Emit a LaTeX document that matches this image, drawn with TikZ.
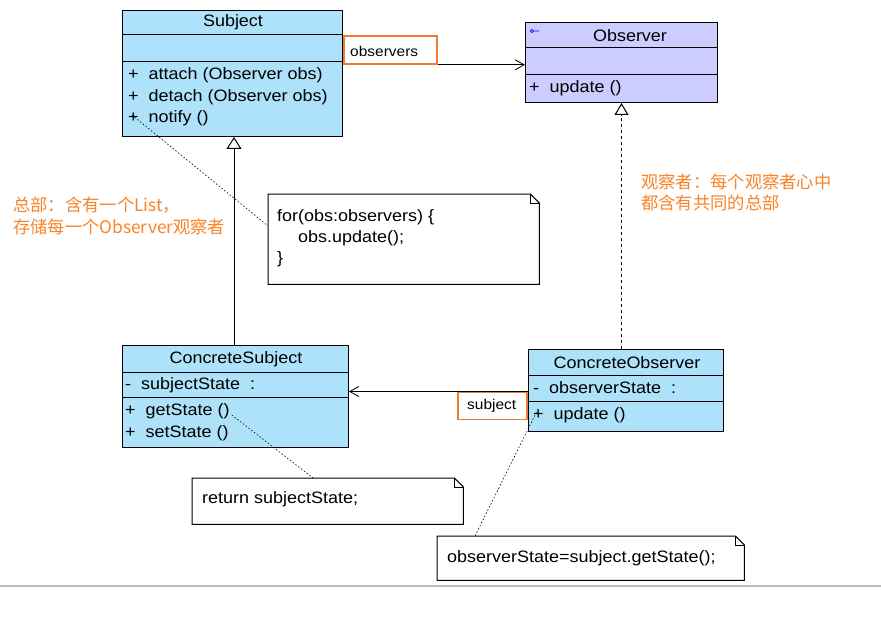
\documentclass[tikz,border=0pt]{standalone}
\usepackage{fontspec}
\setmainfont{Liberation Sans}[FakeStretch=1.09]
\newfontfamily\cjk{Noto Sans CJK SC}
\usetikzlibrary{arrows.meta,calc}

\definecolor{classblue}{RGB}{174,226,250}
\definecolor{classlav}{RGB}{204,204,255}
\definecolor{roleorange}{RGB}{237,125,49}
\definecolor{remarkorange}{RGB}{250,132,40}
\definecolor{rulegray}{RGB}{190,190,190}

% note with a folded top-right corner
\newcommand\dogear[1]{%
  \draw[line width=1pt] (#1.north west) -- ($(#1.north east)+(-9,0)$)
    -- ($(#1.north east)+(0,9)$) -- (#1.south east) -- (#1.south west) -- cycle;
  \draw[line width=0.6pt] ($(#1.north east)+(-9,0)$) |- ($(#1.north east)+(0,9)$);}

\begin{document}
\begin{tikzpicture}[x=1pt,y=-1pt,
  classbox/.style={draw=black, line width=1pt, anchor=north west, inner sep=0},
  compline/.style={line width=1pt},
  member/.style={anchor=base west, inner sep=0, font=\fontsize{16.5}{18}\selectfont},
  classname/.style={anchor=base, inner sep=0, font=\fontsize{16.5}{18}\selectfont},
  rolebox/.style={draw=roleorange, line width=1.8pt, fill=white, anchor=north west, inner sep=0},
  rolename/.style={anchor=base west, inner sep=0, font=\fontsize{14.2}{16}\selectfont},
  notebox/.style={anchor=north west, inner sep=0, fill=white},
  remark/.style={anchor=base west, inner sep=0, align=left, text=remarkorange,
                 font=\cjk\fontsize{17.3}{21}\selectfont},
  assoc/.style={line width=0.8pt, -{Straight Barb[length=9pt,width=10pt,line width=0.8pt]}},
  generalize/.style={line width=1pt, -{Triangle[open,length=12pt,width=15pt,line width=1pt]}},
  realize/.style={line width=1pt, dash pattern=on 3pt off 3pt,
                  -{Triangle[open,length=12pt,width=14pt,line width=1pt,sep=0pt]}},
  noteline/.style={line width=0.6pt, dash pattern=on 1.5pt off 2pt}
]
\useasboundingbox (0,0) rectangle (881,623);
\fill[white] (0,0) rectangle (881,623);

% ---------- Subject ----------
\node[classbox, fill=classblue, minimum width=220, minimum height=126] (subj) at (122,10) {};
\draw[compline] ($(subj.north west)+(0,25)$) -- ($(subj.north east)+(0,25)$);
\draw[compline] ($(subj.north west)+(0,52)$) -- ($(subj.north east)+(0,52)$);
\node[classname] (subjname) at (233,27) {Subject};
\node[member] (subjop1) at (128,80) {+~~attach (Observer obs)};
\node[member] (subjop2) at (128,102) {+~~detach (Observer obs)};
\node[member] (subjop3) at (128,123) {+~~notify ()};

% ---------- Observer ----------
\node[classbox, fill=classlav, minimum width=192, minimum height=80] (obs) at (525,22) {};
\draw[compline] ($(obs.north west)+(0,26)$) -- ($(obs.north east)+(0,26)$);
\draw[compline] ($(obs.north west)+(0,53)$) -- ($(obs.north east)+(0,53)$);
\draw[blue, line width=0.7pt] (532,31) circle[radius=1.6] (533.6,31) -- (539,31);
\node[classname] (obsname) at (630,41.5) {Observer};
\node[member] (obsop1) at (529,93) {+~~update ()};

% ---------- ConcreteSubject ----------
\node[classbox, fill=classblue, minimum width=226, minimum height=102] (csubj) at (122,345) {};
\draw[compline] ($(csubj.north west)+(0,27)$) -- ($(csubj.north east)+(0,27)$);
\draw[compline] ($(csubj.north west)+(0,52)$) -- ($(csubj.north east)+(0,52)$);
\node[classname] (csubjname) at (236,363) {ConcreteSubject};
\node[member] (csubjattr) at (125,389) {-~~subjectState~~:};
\node[member] (csubjop1) at (125,415) {+~~getState ()};
\node[member] (csubjop2) at (125,437) {+~~setState ()};

% ---------- ConcreteObserver ----------
\node[classbox, fill=classblue, minimum width=195, minimum height=82] (cobs) at (528,349) {};
\draw[compline] ($(cobs.north west)+(0,26)$) -- ($(cobs.north east)+(0,26)$);
\draw[compline] ($(cobs.north west)+(0,52)$) -- ($(cobs.north east)+(0,52)$);
\node[classname] (cobsname) at (627,368) {ConcreteObserver};
\node[member] (cobsattr) at (533,393) {-~~observerState~~:};
\node[member] (cobsop1) at (533,419) {+~~update ()};

% ---------- relations ----------
\node[rolebox, minimum width=93, minimum height=28] (obslbl) at (343,35) {};
\draw[assoc] (subj.east |- obslbl.south) -- (obs.west |- obslbl.south);
\node[rolebox, minimum width=93, minimum height=28] (obslblbox) at (343,35) {};
\node[rolename] (obslbltext) at (350,56.5) {observers};

\draw[generalize] (csubj.north -| 234,0) -- (subj.south -| 234,0);
\draw[realize] (cobs.north -| obs.south) -- (obs.south);

\node[rolebox, minimum width=69, minimum height=27] (sublbl) at (457,391.5) {};
\draw[assoc] (cobs.west |- sublbl.north) -- (csubj.east |- sublbl.north);
\node[rolebox, minimum width=69, minimum height=27] (sublblbox) at (457,391.5) {};
\node[rolename] (sublbltext) at (467,409) {subject};

% ---------- notes ----------
\node[notebox, minimum width=271, minimum height=90] (note1) at (268,194) {};
\dogear{note1}
\node[member] (note1a) at (277,221) {for(obs:observers) \{};
\node[member] (note1b) at (298,242) {obs.update();};
\node[member] (note1c) at (277,263) {\}};

\node[notebox, minimum width=271, minimum height=46] (note2) at (192,478) {};
\dogear{note2}
\node[member] (note2a) at (202,503) {return subjectState;};

\node[notebox, minimum width=307, minimum height=44] (note3) at (437,536) {};
\dogear{note3}
\node[member] (note3a) at (447,562) {observerState=subject.getState();};

\coordinate (notifyhook) at ($(subjop3.base west)+(4,-8)$);
\draw[noteline] (notifyhook) -- (note1.west |- 0,226);
\coordinate (getstatehook) at ($(csubjop1.base east)+(2,0)$);
\draw[noteline] (getstatehook) -- (note2.north -| 313,0);
\coordinate (updatehook) at ($(cobsop1.base west)+(5,-10)$);
\draw[noteline] (updatehook) -- (note3.north -| 475,0);

% ---------- remarks ----------
\node[remark] (remarkleft) at (13,233) {总部：含有一个List，\\存储每一个Observer观察者};
\node[remark] (remarkright) at (641,209) {观察者：每个观察者心中\\都含有共同的总部};

% bottom rule
\draw[rulegray, line width=1.5pt] (0,586) -- (881,586);
\end{tikzpicture}
\end{document}
